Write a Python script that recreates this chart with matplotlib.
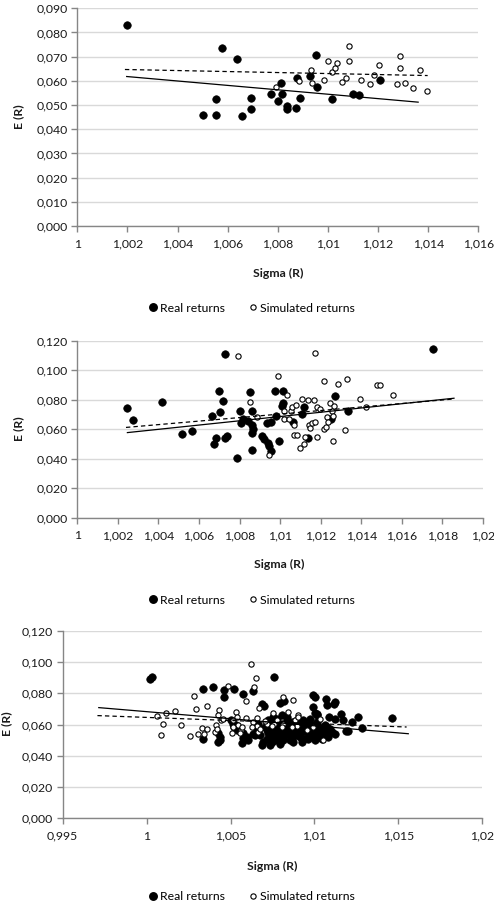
import matplotlib
matplotlib.use("Agg")
import matplotlib.pyplot as plt
from matplotlib.lines import Line2D
from matplotlib.ticker import FixedLocator, FixedFormatter

plt.rcParams['font.family'] = ['Lato', 'DejaVu Sans']

# ---------------- Panel 1 data ----------------
p1_real_x = [1.00197, 1.00576, 1.00636, 1.0050, 1.00553, 1.00554, 1.00656, 1.00695, 1.00693,
             1.00773, 1.00802, 1.00812, 1.00816, 1.00836, 1.00838, 1.00871, 1.00878, 1.0089,
             1.00927, 1.00953, 1.00957, 1.01017, 1.01101, 1.01125, 1.01207]
p1_real_y = [0.0831, 0.0736, 0.0691, 0.0459, 0.0459, 0.0525, 0.0454, 0.0528, 0.0483,
             0.0545, 0.0516, 0.0591, 0.0545, 0.0496, 0.0483, 0.0489, 0.0613, 0.0528,
             0.0620, 0.0709, 0.0575, 0.0523, 0.0546, 0.0540, 0.0604]
p1_sim_x = [1.00793, 1.00884, 1.00931, 1.00935, 1.00984, 1.01001, 1.01017, 1.01028, 1.01037,
            1.01055, 1.01074, 1.01086, 1.01086, 1.01132, 1.01166, 1.01182, 1.01202, 1.01275,
            1.01287, 1.01287, 1.01306, 1.0134, 1.01367, 1.01396]
p1_sim_y = [0.0575, 0.0600, 0.0644, 0.0593, 0.0604, 0.0682, 0.0638, 0.0652, 0.0675,
            0.0594, 0.0611, 0.0744, 0.0682, 0.0602, 0.0589, 0.0626, 0.0664, 0.0589,
            0.0704, 0.0653, 0.0590, 0.0569, 0.0644, 0.0557]
p1_trend_real_x = [1.00197, 1.0136]
p1_trend_real_y = [0.0618, 0.0512]
p1_trend_sim_x = [1.0019, 1.01398]
p1_trend_sim_y = [0.0647, 0.0622]
p1_xticks = [1.0, 1.002, 1.004, 1.006, 1.008, 1.010, 1.012, 1.014, 1.016]
p1_xlabels = ['1', '1,002', '1,004', '1,006', '1,008', '1,01', '1,012', '1,014', '1,016']
p1_yticks = [0.0, 0.01, 0.02, 0.03, 0.04, 0.05, 0.06, 0.07, 0.08, 0.09]
p1_ylabels = ['0,000', '0,010', '0,020', '0,030', '0,040', '0,050', '0,060', '0,070', '0,080', '0,090']

# ---------------- Panel 2 data ----------------
p2_real_x = [1.00247, 1.00276, 1.00416, 1.00518, 1.00567, 1.00664, 1.00682, 1.00675, 1.00698,
             1.00703, 1.0072, 1.00728, 1.00728, 1.00738, 1.00786, 1.00802, 1.00805, 1.00815,
             1.00843, 1.00851, 1.00861, 1.00863, 1.00863, 1.00868, 1.00863, 1.00912, 1.0092,
             1.00933, 1.00942, 1.00947, 1.00953, 1.00953, 1.00975, 1.0098, 1.00993, 1.01012,
             1.01016, 1.01011, 1.01065, 1.01107, 1.01117, 1.01139, 1.01252, 1.01272, 1.01336,
             1.01755]
p2_real_y = [0.0746, 0.0664, 0.0783, 0.0566, 0.0591, 0.0691, 0.0543, 0.0500, 0.0862,
             0.0714, 0.0792, 0.1113, 0.0543, 0.0552, 0.0406, 0.0726, 0.0644, 0.0669,
             0.0657, 0.0853, 0.0721, 0.0630, 0.0571, 0.0600, 0.0461, 0.0557, 0.0534,
             0.0639, 0.0509, 0.0489, 0.0452, 0.0650, 0.0858, 0.0687, 0.0520, 0.0862,
             0.0780, 0.0760, 0.0650, 0.0703, 0.0749, 0.0539, 0.0666, 0.0826, 0.0723,
             0.1143]
p2_sim_x = [1.00792, 1.00853, 1.00884, 1.00989, 1.01017, 1.01032, 1.01019, 1.01042, 1.01053,
            1.0106, 1.01068, 1.01076, 1.0107, 1.01085, 1.01098, 1.01109, 1.01119, 1.01124,
            1.01137, 1.0114, 1.01147, 1.01157, 1.01165, 1.0117, 1.01172, 1.0118, 1.01182,
            1.01198, 1.01218, 1.01216, 1.01224, 1.01229, 1.01238, 1.01244, 1.01254, 1.0126,
            1.01264, 1.01262, 1.01287, 1.0132, 1.01328, 1.01394, 1.01423, 1.01476, 1.01494,
            1.01555, 1.00943]
p2_sim_y = [0.1097, 0.0783, 0.0680, 0.0961, 0.0726, 0.0835, 0.0669, 0.0666, 0.0723,
            0.0753, 0.0630, 0.0767, 0.0559, 0.0559, 0.0470, 0.0805, 0.0498, 0.0550,
            0.0796, 0.0628, 0.0607, 0.0644, 0.0796, 0.1118, 0.0650, 0.0749, 0.0550,
            0.0739, 0.0924, 0.0600, 0.0612, 0.0680, 0.0648, 0.0778, 0.0726, 0.0520,
            0.0760, 0.0692, 0.0908, 0.0596, 0.0940, 0.0803, 0.0751, 0.0901, 0.0899,
            0.0831, 0.0427]
p2_trend_real_x = [1.00247, 1.01857]
p2_trend_real_y = [0.0577, 0.0810]
p2_trend_sim_x = [1.0024, 1.01857]
p2_trend_sim_y = [0.0612, 0.0805]
p2_xticks = [1.0, 1.002, 1.004, 1.006, 1.008, 1.010, 1.012, 1.014, 1.016, 1.018, 1.020]
p2_xlabels = ['1', '1,002', '1,004', '1,006', '1,008', '1,01', '1,012', '1,014', '1,016', '1,018', '1,02']
p2_yticks = [0.0, 0.02, 0.04, 0.06, 0.08, 0.10, 0.12]
p2_ylabels = ['0,000', '0,020', '0,040', '0,060', '0,080', '0,100', '0,120']

# ---------------- Panel 3 data ----------------
p3_real_x = [1.0002, 1.0003, 1.00338, 1.00394, 1.00463, 1.00463, 1.00523, 1.00576, 1.00636,
             1.00685, 1.00702, 1.00761, 1.00795, 1.00821, 1.00805, 1.00989, 1.01003, 1.00993,
             1.01003, 1.01017, 1.01069, 1.01073, 1.01122, 1.01117, 1.01013, 1.01089, 1.01122,
             1.01156, 1.01172, 1.01222, 1.01261, 1.01281, 1.01188, 1.01122, 1.01202, 1.0146,
             1.00338, 1.00427, 1.00437, 1.00427, 1.00437, 1.00517, 1.00523, 1.00531, 1.00572,
             1.00596, 1.00646, 1.00576, 1.0057, 1.00606, 1.00689, 1.00695, 1.00503, 1.00537,
             1.00556,
             1.00715, 1.00735, 1.00745, 1.00755, 1.00755, 1.00765, 1.00775, 1.00785, 1.00795,
             1.00805, 1.00815, 1.00825, 1.00834, 1.00844, 1.00854, 1.00864, 1.00874, 1.00884,
             1.00894, 1.00904, 1.00914, 1.00924, 1.00934, 1.00944, 1.00954, 1.00963, 1.00973,
             1.00983, 1.00993, 1.01003, 1.01013, 1.01023, 1.01033, 1.01043, 1.01053, 1.01063,
             1.01073, 1.01083, 1.01092, 1.00755, 1.00775, 1.00834, 1.00894, 1.00914, 1.00854,
             1.00815, 1.00745, 1.00715, 1.00725, 1.00705, 1.00676, 1.00656, 1.00636, 1.00666,
             1.01043, 1.01063, 1.01083, 1.01102, 1.01003, 1.00963, 1.00924, 1.00874, 1.00795,
             1.00735, 1.00934, 1.00973, 1.01013, 1.00864,
             1.00725, 1.00765, 1.00805, 1.00844, 1.00884, 1.00924, 1.00963, 1.01003, 1.01043,
             1.00745, 1.00785, 1.00825, 1.00864, 1.00904, 1.00944, 1.00983, 1.01023, 1.01063]
p3_real_y = [0.0888, 0.0901, 0.0830, 0.0839, 0.0821, 0.0779, 0.0830, 0.0796, 0.0813,
             0.0734, 0.0721, 0.0905, 0.0738, 0.0749, 0.0659, 0.0791, 0.0776, 0.0712,
             0.0674, 0.0659, 0.0766, 0.0723, 0.0744, 0.0729, 0.0670, 0.0648, 0.0637,
             0.0665, 0.0627, 0.0616, 0.0648, 0.0578, 0.0556, 0.0541, 0.0556, 0.0642,
             0.0505, 0.0543, 0.0522, 0.0490, 0.0498, 0.0605, 0.0584, 0.0595, 0.0516,
             0.0522, 0.0533, 0.0545, 0.0481, 0.0498, 0.0466, 0.0488, 0.0627, 0.0567,
             0.0573,
             0.0563, 0.0530, 0.0584, 0.0627, 0.0509, 0.0498, 0.0541, 0.0573, 0.0520,
             0.0605, 0.0552, 0.0530, 0.0627, 0.0573, 0.0541, 0.0509, 0.0595, 0.0563,
             0.0530, 0.0616, 0.0584, 0.0552, 0.0509, 0.0605, 0.0573, 0.0541, 0.0595,
             0.0563, 0.0530, 0.0584, 0.0552, 0.0520, 0.0573, 0.0541, 0.0563, 0.0530,
             0.0584, 0.0552, 0.0573, 0.0648, 0.0637, 0.0648, 0.0627, 0.0520, 0.0498,
             0.0498, 0.0488, 0.0509, 0.0627, 0.0584, 0.0530, 0.0563, 0.0541, 0.0605,
             0.0509, 0.0541, 0.0520, 0.0552, 0.0498, 0.0509, 0.0490, 0.0488, 0.0477,
             0.0470, 0.0627, 0.0637, 0.0616, 0.0616,
             0.0545, 0.0556, 0.0545, 0.0556, 0.0545, 0.0567, 0.0556, 0.0567, 0.0556,
             0.0600, 0.0590, 0.0600, 0.0590, 0.0600, 0.0590, 0.0600, 0.0590, 0.0600]
p3_sim_x = [1.0006, 1.00116, 1.00169, 1.001, 1.00084, 1.00205, 1.00282, 1.00292, 1.0026,
            1.00304, 1.00332, 1.00362, 1.00362, 1.00408, 1.00413, 1.00417, 1.00431, 1.00427,
            1.00441, 1.00455, 1.00487, 1.00511, 1.00515, 1.00535, 1.00541, 1.00547, 1.0056,
            1.00566, 1.0059, 1.00592, 1.00622, 1.00642, 1.00632, 1.00656, 1.00652, 1.0067,
            1.00666, 1.00656, 1.00755, 1.00761, 1.00815, 1.00815, 1.0084, 1.00874, 1.00884,
            1.009, 1.00904, 1.00894, 1.01033, 1.01049, 1.00993, 1.00342, 1.00517, 1.00556,
            1.00626, 1.00676, 1.00715, 1.00775, 1.00805, 1.00864, 1.00954, 1.00745, 1.00705]
p3_sim_y = [0.0655, 0.0674, 0.0687, 0.0601, 0.0535, 0.0597, 0.0783, 0.0697, 0.0528,
            0.0539, 0.0578, 0.0571, 0.0717, 0.0550, 0.0595, 0.0571, 0.0695, 0.0663,
            0.0627, 0.0633, 0.0845, 0.0546, 0.0627, 0.0678, 0.0648, 0.0595, 0.0563,
            0.0586, 0.0751, 0.0644, 0.0990, 0.0841, 0.0616, 0.0640, 0.0898, 0.0708,
            0.0552, 0.0588, 0.0674, 0.0605, 0.0776, 0.0605, 0.0680, 0.0755, 0.0627,
            0.0659, 0.0646, 0.0588, 0.0635, 0.0498, 0.0584, 0.0541, 0.0584, 0.0545,
            0.0584, 0.0573, 0.0605, 0.0627, 0.0584, 0.0584, 0.0563, 0.0590, 0.0620]
p3_trend_real_x = [0.99715, 1.01559]
p3_trend_real_y = [0.0708, 0.0541]
p3_trend_sim_x = [0.99707, 1.01549]
p3_trend_sim_y = [0.0657, 0.0584]
p3_xticks = [0.995, 1.0, 1.005, 1.010, 1.015, 1.020]
p3_xlabels = ['0,995', '1', '1,005', '1,01', '1,015', '1,02']
p3_yticks = [0.0, 0.02, 0.04, 0.06, 0.08, 0.10, 0.12]
p3_ylabels = ['0,000', '0,020', '0,040', '0,060', '0,080', '0,100', '0,120']

series_labels = ['Real returns', 'Simulated returns']
xlabel_text = 'Sigma (R)'
ylabel_text = 'E (R)'

W, H = 494, 910
fig = plt.figure(figsize=(W / 100, H / 100), dpi=100)

GRID = '#d9d9d9'
SPINE = '#868686'
TXT = '#1a1a1a'
FS = 8.8


def px_axes(left, right, top, bottom):
    return fig.add_axes([left / W, 1 - bottom / H, (right - left) / W, (bottom - top) / H])


def style_panel(ax, xticks, xlabels, yticks, ylabels):
    ax.set_xlim(xticks[0], xticks[-1])
    ax.set_ylim(yticks[0], yticks[-1])
    ax.xaxis.set_major_locator(FixedLocator(xticks))
    ax.xaxis.set_major_formatter(FixedFormatter(xlabels))
    ax.yaxis.set_major_locator(FixedLocator(yticks))
    ax.yaxis.set_major_formatter(FixedFormatter(ylabels))
    for s in ['top', 'right']:
        ax.spines[s].set_visible(False)
    for s in ['left', 'bottom']:
        ax.spines[s].set_color(SPINE)
        ax.spines[s].set_linewidth(1.0)
    ax.grid(axis='y', color=GRID, linewidth=1.0, zorder=0)
    ax.set_axisbelow(True)
    ax.tick_params(axis='both', colors=SPINE, length=4, width=1.0, direction='out',
                   labelsize=FS, labelcolor=TXT)
    ax.tick_params(axis='x', pad=5)
    ax.tick_params(axis='y', pad=3)


def draw_panel(ax, rx, ry, sx, sy, trx, trry, tsx, tsy):
    ax.plot(rx, ry, linestyle='none', marker='o', markersize=5.4, markerfacecolor='black',
            markeredgecolor='black', markeredgewidth=0.5, zorder=3, clip_on=False)
    ax.plot(sx, sy, linestyle='none', marker='o', markersize=3.8, markerfacecolor='white',
            markeredgecolor='black', markeredgewidth=0.8, zorder=4, clip_on=False)
    ax.plot(trx, trry, color='black', linewidth=0.9, zorder=5)
    ax.plot(tsx, tsy, color='black', linewidth=0.9, linestyle=(0, (3.5, 2.5)), zorder=5)


panels = [
    dict(box=(77.3, 478.3, 8.3, 226.0), rx=p1_real_x, ry=p1_real_y, sx=p1_sim_x, sy=p1_sim_y,
         trx=p1_trend_real_x, trry=p1_trend_real_y, tsx=p1_trend_sim_x, tsy=p1_trend_sim_y,
         xt=p1_xticks, xl=p1_xlabels, yt=p1_yticks, yl=p1_ylabels,
         ylab=(19, 117), xlab=(278, 273), leg=308),
    dict(box=(77.3, 483.0, 340.7, 517.7), rx=p2_real_x, ry=p2_real_y, sx=p2_sim_x, sy=p2_sim_y,
         trx=p2_trend_real_x, trry=p2_trend_real_y, tsx=p2_trend_sim_x, tsy=p2_trend_sim_y,
         xt=p2_xticks, xl=p2_xlabels, yt=p2_yticks, yl=p2_ylabels,
         ylab=(19, 429), xlab=(279, 564), leg=600),
    dict(box=(62.7, 482.3, 630.7, 818.3), rx=p3_real_x, ry=p3_real_y, sx=p3_sim_x, sy=p3_sim_y,
         trx=p3_trend_real_x, trry=p3_trend_real_y, tsx=p3_trend_sim_x, tsy=p3_trend_sim_y,
         xt=p3_xticks, xl=p3_xlabels, yt=p3_yticks, yl=p3_ylabels,
         ylab=(7, 724), xlab=(272, 866), leg=897),
]

handles = [
    Line2D([], [], linestyle='none', marker='o', markersize=5.4, markerfacecolor='black',
           markeredgecolor='black'),
    Line2D([], [], linestyle='none', marker='o', markersize=3.8, markerfacecolor='white',
           markeredgecolor='black', markeredgewidth=0.8),
]

for p in panels:
    ax = px_axes(*p['box'])
    style_panel(ax, p['xt'], p['xl'], p['yt'], p['yl'])
    draw_panel(ax, p['rx'], p['ry'], p['sx'], p['sy'], p['trx'], p['trry'], p['tsx'], p['tsy'])
    fig.text(p['ylab'][0] / W, 1 - p['ylab'][1] / H, ylabel_text, rotation=90, ha='center',
             va='center', fontsize=FS, fontweight='bold', color=TXT)
    fig.text(p['xlab'][0] / W, 1 - p['xlab'][1] / H, xlabel_text, ha='center', va='center',
             fontsize=FS, fontweight='bold', color=TXT)
    fig.legend(handles, series_labels, loc='center', bbox_to_anchor=(252 / W, 1 - p['leg'] / H),
               ncol=2, frameon=False, fontsize=FS, handlelength=0.6, handletextpad=0.3,
               columnspacing=2.0, borderaxespad=0)

fig.savefig('out.png', dpi=100)
